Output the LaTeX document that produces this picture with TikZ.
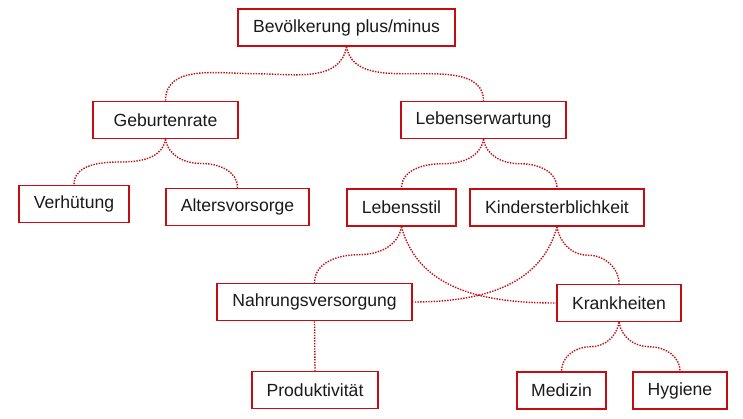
\documentclass[tikz,border=0pt]{standalone}
\usepackage{fontspec}
\setmainfont{Liberation Sans}
\usetikzlibrary{calc,positioning}

\definecolor{boxred}{RGB}{196,12,18}
\definecolor{txtgray}{RGB}{26,26,26}

\tikzset{
    box/.style = {draw = boxred, line width = 1.5pt, fill = white, text = txtgray,
                  inner sep = 0pt, minimum height = 37pt,
                  font = \fontsize{17.6}{20}\selectfont},
    link/.style = {draw = boxred, line width = 1.4pt, dash pattern = on 1.4pt off 1.3pt}
}

\begin{document}
\begin{tikzpicture}[x = 1pt, y = -1pt]

    \useasboundingbox (0,0) rectangle (743,418);

    % the boxes
    \node[box, minimum width = 217pt] (bev) at (346.5,27.5) {Bevölkerung plus/minus};
    \node[box, minimum width = 145pt] (geb) at (165.5,120) {Geburtenrate};
    \node[box, minimum width = 165pt] (leb) at (483.5,120) {Lebenserwartung};
    \node[box, minimum width = 110pt] (ver) at (74,204) {Verhütung};
    \node[box, minimum width = 143pt] (alt) at (237.5,207) {Altersvorsorge};
    \node[box, minimum width = 109pt] (sti) at (401.5,207.5) {Lebensstil};
    \node[box, minimum width = 174pt] (kin) at (557,207.5) {Kindersterblichkeit};
    \node[box, minimum width = 195pt] (nah) at (314.5,302) {Nahrungsversorgung};
    \node[box, minimum width = 124pt] (kra) at (619,303) {Krankheiten};
    \node[box, minimum width = 126pt] (pro) at (315,390) {Produktivität};
    \node[box, minimum width = 89pt]  (med) at (561.5,390.5) {Medizin};
    \node[box, minimum width = 94pt]  (hyg) at (680,390.5) {Hygiene};

    % curly links, left and right
    \draw[link] (bev.south) to[out=-100,in=0] ($(bev.south)!.5!(geb.north)$) to[out=180,in=90] (geb.north);
    \draw[link] (bev.south) to[out=-80,in=180] ($(bev.south)!.5!(leb.north)$) to[out=0,in=90] (leb.north);

    \draw[link] (geb.south) to[out=-100,in=0] ($(geb.south)!.5!(ver.north)$) to[out=180,in=90] (ver.north);
    \draw[link] (geb.south) to[out=-80,in=180] ($(geb.south)!.5!(alt.north)$) to[out=0,in=90] (alt.north);

    \draw[link] (leb.south) to[out=-100,in=0] ($(leb.south)!.5!(sti.north)$) to[out=180,in=90] (sti.north);
    \draw[link] (leb.south) to[out=-80,in=180] ($(leb.south)!.5!(kin.north)$) to[out=0,in=90] (kin.north);

    \draw[link] (sti.south) to[out=-100,in=0] ($(sti.south)!.5!(nah.north)$) to[out=180,in=90] (nah.north);
    \draw[link] (kin.south) to[out=-80,in=180] ($(kin.south)!.5!(kra.north)$) to[out=0,in=90] (kra.north);

    % the crossing ones
    \draw[link] (sti.south) to[out=-75,in=180] (kra.west);
    \draw[link] (kin.south) to[out=-105,in=0] (nah.east);

    \draw[link] (nah.south) -- (pro.north);

    \draw[link] (kra.south) to[out=-100,in=0] ($(kra.south)!.5!(med.north)$) to[out=180,in=90] (med.north);
    \draw[link] (kra.south) to[out=-80,in=180] ($(kra.south)!.5!(hyg.north)$) to[out=0,in=90] (hyg.north);

\end{tikzpicture}
\end{document}
